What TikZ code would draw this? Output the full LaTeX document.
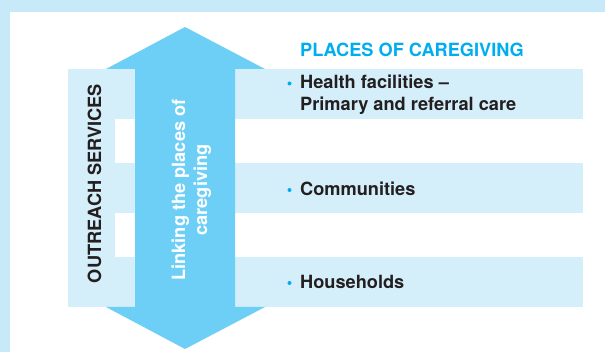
\documentclass[tikz,border=0pt]{standalone}
\usepackage{fontspec}
\setmainfont{TeX Gyre Heros}
\definecolor{frameblue}{HTML}{C7E9F8}
\definecolor{bandblue}{HTML}{D4EEFA}
\definecolor{arrowblue}{HTML}{6ECFF6}
\definecolor{titleblue}{HTML}{00AEEF}
\definecolor{inkdark}{HTML}{231F20}
\begin{document}
\begin{tikzpicture}[x=1pt,y=-1pt,
  band/.style={fill=bandblue,draw=none},
  label/.style={font=\fontsize{18.2}{21.5}\selectfont\bfseries,text=inkdark,inner sep=0pt,align=left},
  dot/.style={circle,fill=titleblue,draw=none,inner sep=0pt,minimum size=4pt}]
  % frame and white page
  \fill[frameblue] (0,0) rectangle (605,352);
  \useasboundingbox (0,0) rectangle (605,352);
  \fill[white] (10,12) rectangle (605,352);
  % horizontal bands of the places of caregiving
  \path[band] (115,69) rectangle (583,119) coordinate (b1);
  \path[band] (115,163) rectangle (583,213) coordinate (b2);
  \path[band] (115,257) rectangle (583,307) coordinate (b3);
  % outreach column
  \path[band] (68,69) rectangle (115,307);
  % double-headed linking arrow
  \fill[arrowblue] (185,27) -- (265,69) -- (235,69) -- (235,307) -- (265,307)
    -- (185,349) -- (106,307) -- (135,307) -- (135,69) -- (106,69) -- cycle;
  % texts
  \node[label,text=titleblue,anchor=base west] (title) at (300,56.5) {PLACES OF CAREGIVING};
  \node[label,anchor=base west] (health) at (300,110.5) {Health facilities –\\Primary and referral care};
  \node[label,anchor=base west] (comm) at (300,195.5) {Communities};
  \node[label,anchor=base west] (house) at (300,288.5) {Households};
  \node[dot] (d1) at (289.5,83.5) {};
  \node[dot] (d2) at (289.5,190) {};
  \node[dot] (d3) at (289.5,283) {};
  \node[label,rotate=90,anchor=base] (outreach) at (101,183.5) {OUTREACH SERVICES};
  \node[label,rotate=90,anchor=base,text=white] (link1) at (185,190) {Linking the places of};
  \node[label,rotate=90,anchor=base,text=white] (link2) at (207,190) {caregiving};
\end{tikzpicture}
\end{document}
